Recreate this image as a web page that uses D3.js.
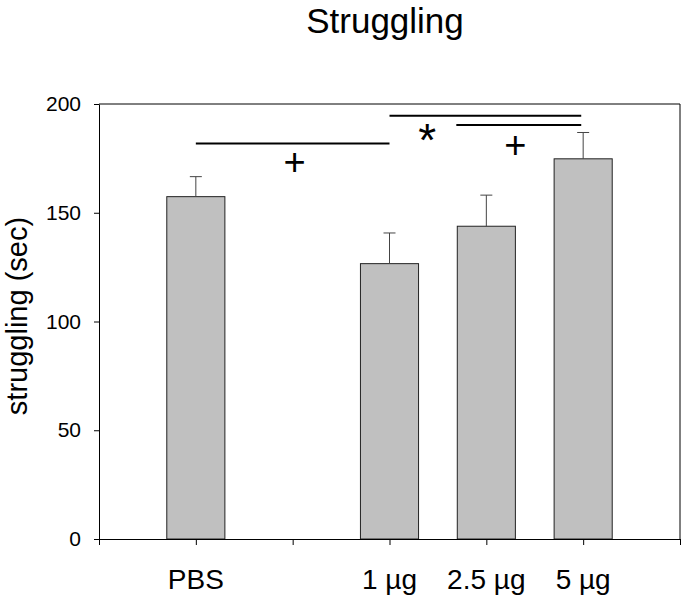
<!DOCTYPE html>
<html>
<head>
<meta charset="utf-8">
<script src="https://cdn.jsdelivr.net/npm/d3@7"></script>
<style>
  body { margin: 0; background: #fff; }
  svg { display: block; font-family: "Liberation Sans", Arial, sans-serif; }
</style>
</head>
<body>
<div id="myDataVis"><svg></svg></div>
<script>
// DATA
const categories = ['PBS', '', '1 µg', '2.5 µg', '5 µg'];
const slots = [1, 2, 3, 4, 5];
const means = [157.4, null, 126.6, 143.8, 174.8];
const errors = [9.2, null, 14.1, 14.3, 12.1];
const yTicks = [0, 50, 100, 150, 200];
const xTicks = [0, 1, 2, 3, 4, 5, 6];

// significance bars [x1, x2, y] in data units
const sigLines = [[1, 3, 181.8], [3, 4.98, 194.6], [3.69, 4.98, 190.3]];
// significance marks [x, y, symbol]
const sigMarks = [[2.02, 173.1, '+'], [3.39, 188.3, '*'], [4.3, 181.3, '+']];

const margin = {top: 104, right: 1, bottom: 58, left: 99};
const width = 681 - margin.left - margin.right;
const height = 597 - margin.top - margin.bottom;

const root = d3.select('#myDataVis').select('svg')
    .attr('width', 681)
    .attr('height', 597);

const svg = root.append('g')
    .attr('transform', `translate(${margin.left},${margin.top})`);

const xScale = d3.scaleLinear().domain([0, 6]).range([0, width]);
const yScale = d3.scaleLinear().domain([0, 200]).range([height, 0]);
const barWidth = (xScale(1) - xScale(0)) * 0.6;

// title
root.append('text')
    .attr('x', 385)
    .attr('y', 33)
    .attr('text-anchor', 'middle')
    .attr('font-size', 35)
    .text('Struggling');

// y axis title
root.append('text')
    .attr('transform', 'translate(27, 316) rotate(-90)')
    .attr('text-anchor', 'middle')
    .attr('font-size', 29)
    .text('struggling (sec)');

// frame: top and right
svg.append('line')
    .attr('x1', 0).attr('x2', width)
    .attr('y1', 0).attr('y2', 0)
    .attr('stroke', '#000');
svg.append('line')
    .attr('x1', width).attr('x2', width)
    .attr('y1', 0).attr('y2', height)
    .attr('stroke', '#000');

// bars
const rows = slots.map((s, i) => ({slot: s, mean: means[i], err: errors[i]}))
    .filter(d => d.mean !== null);

svg.selectAll('rect.bar')
    .data(rows)
    .enter()
    .append('rect')
    .attr('class', 'bar')
    .attr('x', d => xScale(d.slot) - barWidth / 2)
    .attr('y', d => yScale(d.mean))
    .attr('width', barWidth)
    .attr('height', d => height - yScale(d.mean))
    .attr('fill', '#c0c0c0')
    .attr('stroke', '#222')
    .attr('stroke-width', 1);

// error bars (upper only)
svg.selectAll('line.err')
    .data(rows)
    .enter()
    .append('line')
    .attr('class', 'err')
    .attr('x1', d => xScale(d.slot))
    .attr('x2', d => xScale(d.slot))
    .attr('y1', d => yScale(d.mean))
    .attr('y2', d => yScale(d.mean + d.err))
    .attr('stroke', '#444');

svg.selectAll('line.cap')
    .data(rows)
    .enter()
    .append('line')
    .attr('class', 'cap')
    .attr('x1', d => xScale(d.slot) - 6)
    .attr('x2', d => xScale(d.slot) + 6)
    .attr('y1', d => yScale(d.mean + d.err))
    .attr('y2', d => yScale(d.mean + d.err))
    .attr('stroke', '#444');

// significance
svg.selectAll('line.sig')
    .data(sigLines)
    .enter()
    .append('line')
    .attr('class', 'sig')
    .attr('x1', d => xScale(d[0]))
    .attr('x2', d => xScale(d[1]))
    .attr('y1', d => yScale(d[2]))
    .attr('y2', d => yScale(d[2]))
    .attr('stroke', '#000')
    .attr('stroke-width', 2);

svg.selectAll('text.sig')
    .data(sigMarks)
    .enter()
    .append('text')
    .attr('class', 'sig')
    .attr('x', d => xScale(d[0]))
    .attr('y', d => yScale(d[1]))
    .attr('text-anchor', 'middle')
    .attr('font-size', d => d[2] === '+' ? 38 : 46)
    .attr('dy', d => d[2] === '+' ? '0.34em' : '0.58em')
    .text(d => d[2]);

// axes
const yAxis = svg.append('g')
    .attr('class', 'y-axis')
    .call(d3.axisLeft(yScale).tickValues(yTicks).tickSizeInner(5).tickSizeOuter(0).tickPadding(13));

const xAxis = svg.append('g')
    .attr('class', 'x-axis')
    .attr('transform', `translate(0, ${height})`)
    .call(d3.axisBottom(xScale).tickValues(xTicks).tickSizeInner(6).tickSizeOuter(0).tickFormat(''));

root.selectAll('.domain, .tick line').attr('stroke', '#000');
yAxis.selectAll('text')
    .attr('font-family', '"Liberation Sans", Arial, sans-serif')
    .attr('font-size', 21)
    .attr('fill', '#000');

// category labels
svg.selectAll('text.cat')
    .data(slots)
    .enter()
    .append('text')
    .attr('class', 'cat')
    .attr('x', d => xScale(d))
    .attr('y', height + 50)
    .attr('text-anchor', 'middle')
    .attr('font-size', 28)
    .text((d, i) => categories[i]);
</script>
</body>
</html>
